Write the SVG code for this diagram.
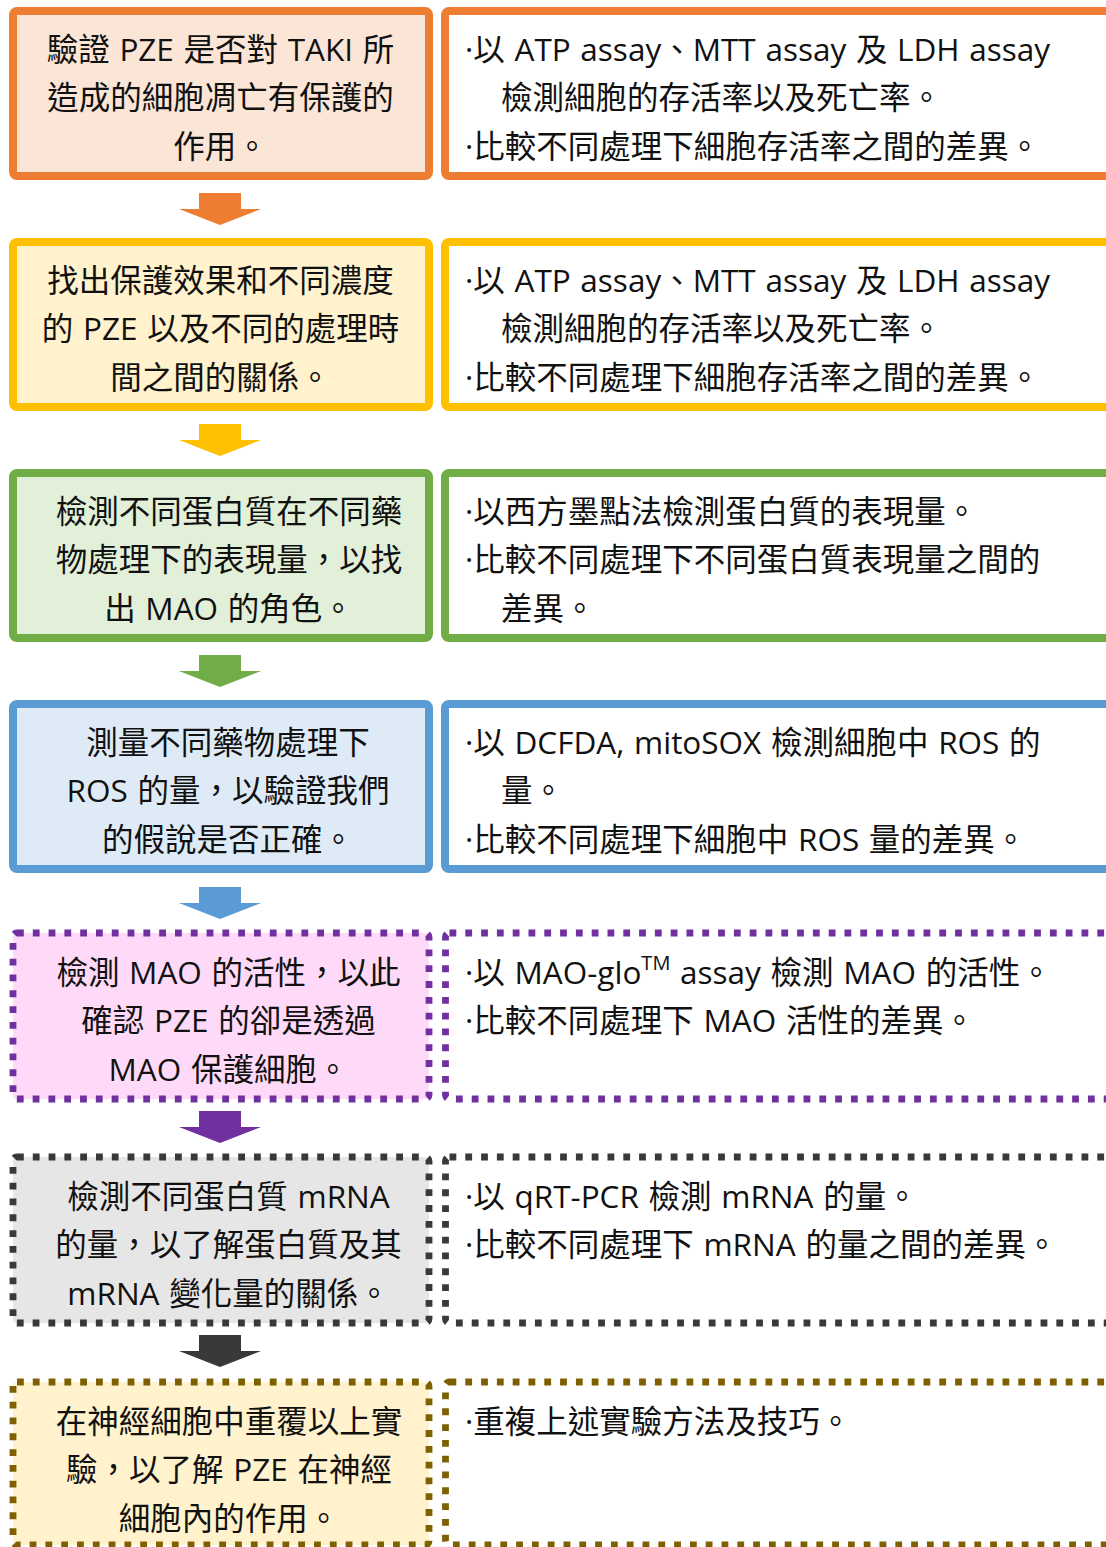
<svg xmlns="http://www.w3.org/2000/svg" width="1106" height="1547" viewBox="0 0 1106 1547" xml:lang="zh-Hant-TW">
<style>
text{font-family:"Open Sans","Noto Sans CJK TC",sans-serif;font-size:31.5px;fill:#111;word-spacing:1.5px}
.l{text-anchor:middle}
.box{stroke-width:8}
.dot{stroke-width:6.8;stroke-dasharray:6.8 9}
.sup{font-size:20px}
</style>
<rect width="1106" height="1547" fill="#fff"/>
<g id="connectors">
<polygon points="199,193 241,193 241,209 261,209 220,225 179,209 199,209" fill="#ED7D31"/>
<polygon points="199,424 241,424 241,440 261,440 220,456 179,440 199,440" fill="#FFC000"/>
<polygon points="199,655 241,655 241,671 261,671 220,687 179,671 199,671" fill="#70AD47"/>
<polygon points="199,887 241,887 241,903 261,903 220,919 179,903 199,903" fill="#5B9BD5"/>
<polygon points="199,1111 241,1111 241,1127 261,1127 220,1143 179,1127 199,1127" fill="#7030A0"/>
<polygon points="199,1335 241,1335 241,1351 261,1351 220,1367 179,1351 199,1351" fill="#3A3838"/>
</g>
<g id="step1">
<rect class="box" x="13" y="11" width="416" height="165" rx="4" fill="#FBE5D6" stroke="#ED7D31"/>
<text class="l" x="220.5" y="60.5">驗證 PZE 是否對 TAKI 所</text>
<text class="l" x="220.5" y="109">造成的細胞凋亡有保護的</text>
<text class="l" x="220.5" y="157.5">作用。</text>
</g>
<g id="method1">
<rect class="box" x="445" y="11" width="680" height="165" rx="4" fill="#fff" stroke="#ED7D31"/>
<text x="465" y="60.5">·以 ATP assay、MTT assay 及 LDH assay</text>
<text x="501" y="109">檢測細胞的存活率以及死亡率。</text>
<text x="465" y="157.5">·比較不同處理下細胞存活率之間的差異。</text>
</g>
<g id="step2">
<rect class="box" x="13" y="242" width="416" height="165" rx="4" fill="#FFF2CC" stroke="#FFC000"/>
<text class="l" x="220.5" y="291.5">找出保護效果和不同濃度</text>
<text class="l" x="220.5" y="340">的 PZE 以及不同的處理時</text>
<text class="l" x="220.5" y="388.5">間之間的關係。</text>
</g>
<g id="method2">
<rect class="box" x="445" y="242" width="680" height="165" rx="4" fill="#fff" stroke="#FFC000"/>
<text x="465" y="291.5">·以 ATP assay、MTT assay 及 LDH assay</text>
<text x="501" y="340">檢測細胞的存活率以及死亡率。</text>
<text x="465" y="388.5">·比較不同處理下細胞存活率之間的差異。</text>
</g>
<g id="step3">
<rect class="box" x="13" y="473" width="416" height="165" rx="4" fill="#E2F0D9" stroke="#70AD47"/>
<text class="l" x="229" y="522.5">檢測不同蛋白質在不同藥</text>
<text class="l" x="229" y="571">物處理下的表現量，以找</text>
<text class="l" x="229" y="619.5">出 MAO 的角色。</text>
</g>
<g id="method3">
<rect class="box" x="445" y="473" width="680" height="165" rx="4" fill="#fff" stroke="#70AD47"/>
<text x="465" y="522.5">·以西方墨點法檢測蛋白質的表現量。</text>
<text x="465" y="571">·比較不同處理下不同蛋白質表現量之間的</text>
<text x="501" y="619.5">差異。</text>
</g>
<g id="step4">
<rect class="box" x="13" y="704" width="416" height="165" rx="4" fill="#DEEBF7" stroke="#5B9BD5"/>
<text class="l" x="228" y="753.5">測量不同藥物處理下</text>
<text class="l" x="228" y="802">ROS 的量，以驗證我們</text>
<text class="l" x="228" y="850.5">的假說是否正確。</text>
</g>
<g id="method4">
<rect class="box" x="445" y="704" width="680" height="165" rx="4" fill="#fff" stroke="#5B9BD5"/>
<text x="465" y="753.5">·以 DCFDA, mitoSOX 檢測細胞中 ROS 的</text>
<text x="501" y="802">量。</text>
<text x="465" y="850.5">·比較不同處理下細胞中 ROS 量的差異。</text>
</g>
<g id="step5">
<rect class="dot" x="13" y="933" width="416" height="166" rx="4" fill="#FFDAF8" stroke="#7030A0"/>
<text class="l" x="228.5" y="983.5">檢測 MAO 的活性，以此</text>
<text class="l" x="228.5" y="1032">確認 PZE 的卻是透過</text>
<text class="l" x="228.5" y="1080.5">MAO 保護細胞。</text>
</g>
<g id="method5">
<rect class="dot" x="445.5" y="933" width="680" height="166" rx="4" fill="#fff" stroke="#7030A0"/>
<text x="465" y="983.5">·以 MAO-glo<tspan class="sup" dy="-14">TM</tspan><tspan dy="14"> assay 檢測 MAO 的活性。</tspan></text>
<text x="465" y="1032">·比較不同處理下 MAO 活性的差異。</text>
</g>
<g id="step6">
<rect class="dot" x="13" y="1157" width="416" height="166" rx="4" fill="#E7E6E6" stroke="#3A3838"/>
<text class="l" x="228.5" y="1207.5">檢測不同蛋白質 mRNA</text>
<text class="l" x="228.5" y="1256">的量，以了解蛋白質及其</text>
<text class="l" x="228.5" y="1304.5">mRNA 變化量的關係。</text>
</g>
<g id="method6">
<rect class="dot" x="445.5" y="1157" width="680" height="166" rx="4" fill="#fff" stroke="#3A3838"/>
<text x="465" y="1207.5">·以 qRT-PCR 檢測 mRNA 的量。</text>
<text x="465" y="1256">·比較不同處理下 mRNA 的量之間的差異。</text>
</g>
<g id="step7">
<rect class="dot" x="13" y="1382" width="416" height="163" rx="4" fill="#FFF2CC" stroke="#7F6000"/>
<text class="l" x="229" y="1432.5">在神經細胞中重覆以上實</text>
<text class="l" x="229" y="1481">驗，以了解 PZE 在神經</text>
<text class="l" x="229" y="1529.5">細胞內的作用。</text>
</g>
<g id="method7">
<rect class="dot" x="445.5" y="1382" width="680" height="163" rx="4" fill="#fff" stroke="#7F6000"/>
<text x="465" y="1432.5">·重複上述實驗方法及技巧。</text>
</g>
</svg>
